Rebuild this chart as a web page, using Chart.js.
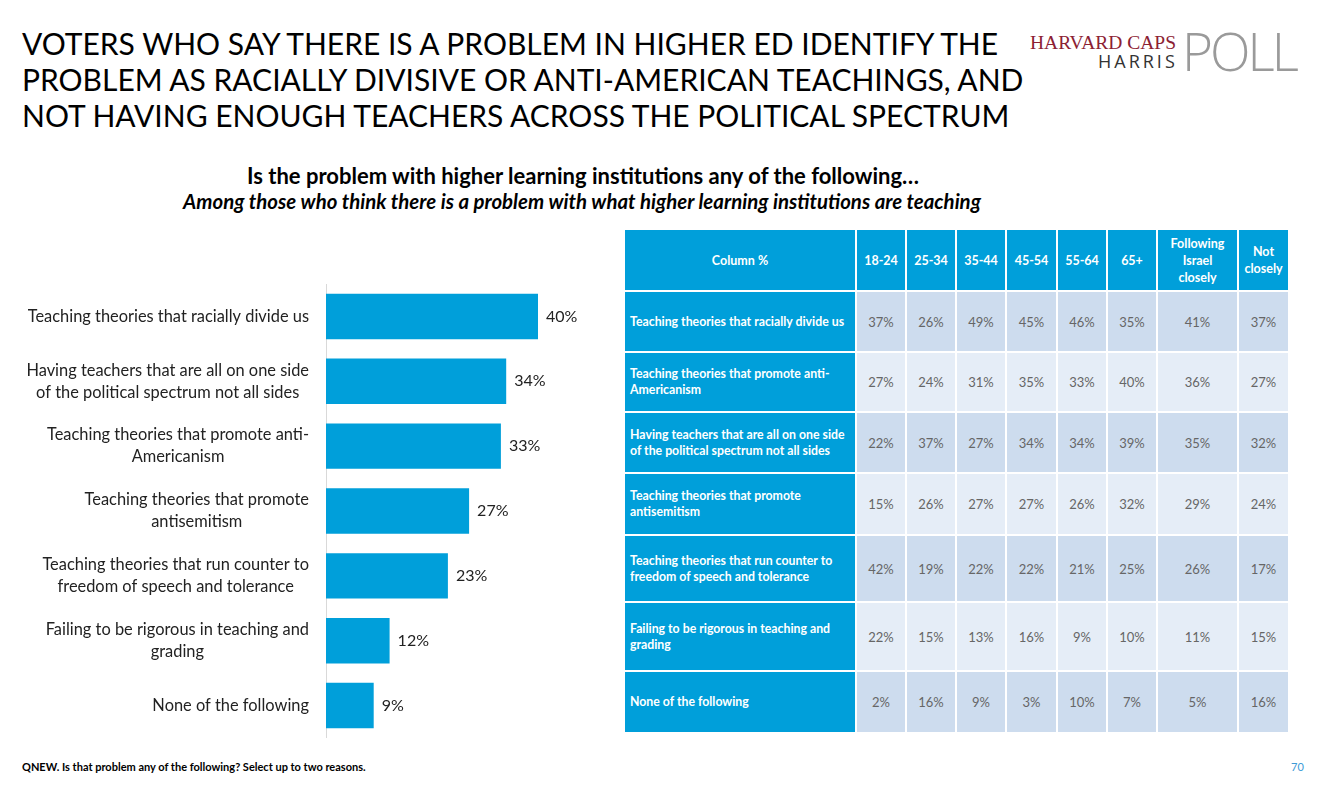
<!DOCTYPE html>
<html>
<head>
<meta charset="utf-8">
<script src="https://cdn.jsdelivr.net/npm/chart.js@4.4.0/dist/chart.umd.min.js"></script>
<style>
  body { margin: 0; width: 1317px; height: 786px; background: #fff; position: relative; overflow: hidden; font-family: Lato, sans-serif; }
  #title { position: absolute; left: 22px; top: 25px; font-size: 30px; line-height: 36px; color: #000; white-space: nowrap; }
  #logo { position: absolute; left: 1028px; top: 28px; width: 270px; height: 50px; }
  #logo .hc { position: absolute; left: 2px; top: 4px; font-family: "Liberation Serif", serif; font-size: 19.5px; color: #8c2133; white-space: nowrap; }
  #logo .hr { position: absolute; left: 70px; top: 21px; font-family: "Open Sans", sans-serif; font-size: 18px; letter-spacing: 3px; color: #333; }
  #logo .poll { position: absolute; left: 154px; top: -14px; font-family: "Open Sans", sans-serif; font-weight: 300; font-size: 53px; color: #9a9a9a; letter-spacing: -3px; }
  #sub1 { position: absolute; left: 0; width: 1166px; top: 162px; text-align: center; font-weight: bold; font-size: 22px; color: #000; white-space: nowrap; }
  #sub2 { position: absolute; left: 0; width: 1164px; top: 189px; text-align: center; font-weight: bold; font-style: italic; font-size: 20.4px; color: #000; white-space: nowrap; }
  #chartBox { position: absolute; left: 0; top: 284px; width: 620px; height: 454px; }
  #tbl { position: absolute; left: 623px; top: 228px; border-collapse: separate; border-spacing: 2px; }
  #tbl td, #tbl th { padding: 0; }
  #tbl th { background: #009fda; color: #fff; font-weight: bold; font-size: 12.5px; line-height: 17px; text-align: center; height: 60px; }
  #tbl td.lab { background: #009fda; color: #fff; font-weight: bold; font-size: 12.3px; line-height: 16px; text-align: left; padding-left: 5px; width: 225px; white-space: nowrap; }
  #tbl td.val { color: #666; font-size: 13px; text-align: center; }
  #tbl tr.odd td.val { background: #cddcee; }
  #tbl tr.even td.val { background: #e5edf7; }
  #foot { position: absolute; left: 22px; top: 760px; font-weight: bold; font-size: 11px; color: #000; white-space: nowrap; }
  #page { position: absolute; left: 1291px; top: 760px; font-size: 11px; color: #3d9ad6; }
</style>
</head>
<body>
<div id="title">VOTERS WHO SAY THERE IS A PROBLEM IN HIGHER ED IDENTIFY THE<br>PROBLEM AS RACIALLY DIVISIVE OR ANTI-AMERICAN TEACHINGS, AND<br>NOT HAVING ENOUGH TEACHERS ACROSS THE POLITICAL SPECTRUM</div>
<div id="logo"><span class="hc">HARVARD CAPS</span><span class="hr">HARRIS</span><span class="poll">POLL</span></div>
<div id="sub1">Is the problem with higher learning institutions any of the following…</div>
<div id="sub2">Among those who think there is a problem with what higher learning institutions are teaching</div>
<div id="chartBox"><canvas id="myChart"></canvas></div>
<table id="tbl"></table>
<div id="foot">QNEW. Is that problem any of the following? Select up to two reasons.</div>
<div id="page">70</div>
<script>
// left chart: total
var categories = [
  ['Teaching theories that racially divide us'],
  ['Having teachers that are all on one side', 'of the political spectrum not all sides'],
  ['Teaching theories that promote anti-', 'Americanism'],
  ['Teaching theories that promote', 'antisemitism'],
  ['Teaching theories that run counter to', 'freedom of speech and tolerance'],
  ['Failing to be rigorous in teaching and', 'grading'],
  ['None of the following']
];
var totals = [40, 34, 33, 27, 23, 12, 9];

// right table
var tableHeader = ['Column %', '18-24', '25-34', '35-44', '45-54', '55-64', '65+', 'Following<br>Israel<br>closely', 'Not<br>closely'];
var colWidths = [230, 48, 48, 48, 49, 48, 48, 79, 49];
var rowLabels = [
  'Teaching theories that racially divide us',
  'Teaching theories that promote anti-<br>Americanism',
  'Having teachers that are all on one side<br>of the political spectrum not all sides',
  'Teaching theories that promote<br>antisemitism',
  'Teaching theories that run counter to<br>freedom of speech and tolerance',
  'Failing to be rigorous in teaching and<br>grading',
  'None of the following'
];
var rowHeights = [59, 58, 59, 60, 65, 67, 60];
var racially   = [37, 26, 49, 45, 46, 35, 41, 37];
var antiAm     = [27, 24, 31, 35, 33, 40, 36, 27];
var oneSide    = [22, 37, 27, 34, 34, 39, 35, 32];
var antisem    = [15, 26, 27, 27, 26, 32, 29, 24];
var counter    = [42, 19, 22, 22, 21, 25, 26, 17];
var failing    = [22, 15, 13, 16, 9, 10, 11, 15];
var noneOf     = [2, 16, 9, 3, 10, 7, 5, 16];
var tableValues = [racially, antiAm, oneSide, antisem, counter, failing, noneOf];

var html = '<tr>';
tableHeader.forEach(function (h, i) {
  html += '<th style="width:' + colWidths[i] + 'px">' + h + '</th>';
});
html += '</tr>';
rowLabels.forEach(function (lab, r) {
  html += '<tr class="' + (r % 2 === 0 ? 'odd' : 'even') + '" style="height:' + rowHeights[r] + 'px">';
  html += '<td class="lab">' + lab + '</td>';
  tableValues[r].forEach(function (v) {
    html += '<td class="val">' + v + '%</td>';
  });
  html += '</tr>';
});
document.getElementById('tbl').innerHTML = html;

// values after the bars + category labels (block right aligned, lines centred)
var barText = {
  id: 'barText',
  afterDatasetsDraw: function (chart) {
    var c = chart.ctx;
    var meta = chart.getDatasetMeta(0);
    var yScale = chart.scales.y;
    c.save();
    c.font = '16px Lato';
    c.fillStyle = '#222';
    c.textBaseline = 'middle';
    c.textAlign = 'left';
    meta.data.forEach(function (bar, i) {
      c.fillText(totals[i] + '%', bar.x + 8, bar.y);
    });
    c.font = '16.4px Lato';
    c.textAlign = 'center';
    var right = chart.chartArea.left - 17;
    categories.forEach(function (lines, i) {
      var w = 0;
      lines.forEach(function (l) { w = Math.max(w, c.measureText(l).width); });
      var cx = right - w / 2;
      var y0 = yScale.getPixelForValue(i) - (lines.length - 1) * 11;
      lines.forEach(function (l, k) {
        c.fillText(l, cx, y0 + k * 22);
      });
    });
    c.restore();
  }
};

var ctx = document.getElementById('myChart').getContext('2d');
var myChart = new Chart(ctx, {
  type: 'bar',
  data: {
    labels: categories,
    datasets: [{
      data: totals,
      backgroundColor: '#009fda',
      categoryPercentage: 1,
      barPercentage: 0.7
    }]
  },
  options: {
    indexAxis: 'y',
    responsive: true,
    maintainAspectRatio: false,
    animation: false,
    layout: { padding: { right: 29 }, autoPadding: false },
    plugins: { legend: { display: false }, tooltip: { enabled: false } },
    scales: {
      x: { display: false, min: 0, max: 50 },
      y: {
        grid: { display: false },
        border: { display: true, color: '#d9d9d9', width: 1 },
        ticks: { display: false },
        afterFit: function (scale) { scale.width = 326; }
      }
    }
  },
  plugins: [barText]
});
</script>
</body>
</html>
